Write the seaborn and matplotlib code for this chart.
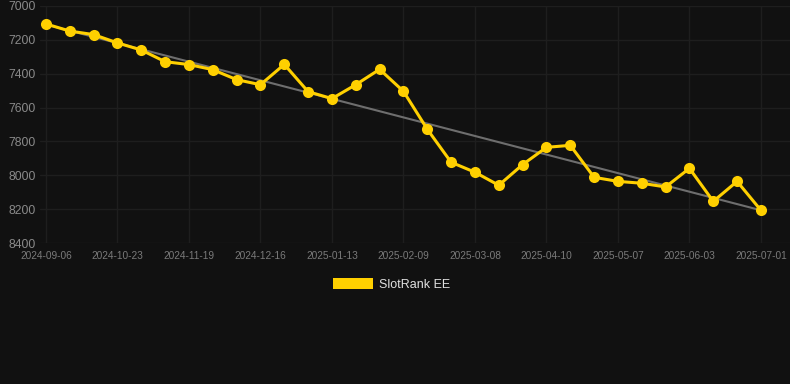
import numpy as np
import pandas as pd
import matplotlib
matplotlib.use("Agg")
import matplotlib.pyplot as plt
from matplotlib.patches import Patch
import seaborn as sns

# every 3rd date is shown on the axis
dates = ["2024-09-06", "2024-09-21", "2024-10-07", "2024-10-23", "2024-11-01", "2024-11-10",
         "2024-11-19", "2024-11-28", "2024-12-07", "2024-12-16", "2024-12-25", "2025-01-03",
         "2025-01-13", "2025-01-22", "2025-01-31", "2025-02-09", "2025-02-18", "2025-02-27",
         "2025-03-08", "2025-03-19", "2025-03-30", "2025-04-10", "2025-04-19", "2025-04-28",
         "2025-05-07", "2025-05-16", "2025-05-25", "2025-06-03", "2025-06-12", "2025-06-21",
         "2025-07-01"]
rank = [7106, 7148, 7169, 7218, 7260, 7329, 7346, 7376, 7435, 7465, 7345, 7506, 7547, 7465,
        7374, 7504, 7728, 7923, 7982, 8059, 7937, 7835, 7823, 8012, 8036, 8047, 8069, 7959,
        8154, 8036, 8207]
series_name = "SlotRank EE"

df = pd.DataFrame({"idx": np.arange(len(dates)), "date": dates, "rank": rank})

bg = "#111111"
yellow = "#FFD000"

sns.set_style("dark")
plt.rcParams["font.family"] = ["Liberation Sans", "DejaVu Sans"]

fig = plt.figure(figsize=(7.9, 3.84), dpi=100)
fig.set_facecolor(bg)
ax = fig.add_axes([40 / 790, 1 - 243 / 384, 750 / 790, 237 / 384])
ax.set_facecolor(bg)

# trend line (linear fit) under the series
sns.regplot(data=df, x="idx", y="rank", scatter=False, ci=None, ax=ax,
            line_kws={"color": "#6e6e6e", "linewidth": 1.5, "zorder": 2})
sns.lineplot(data=df, x="idx", y="rank", ax=ax, color=yellow, linewidth=2.2,
             marker="o", markersize=8, markeredgewidth=0, zorder=3)

ax.set_ylim(8400, 7000)
ax.set_xlim(-0.25, 31.22)
ax.set_yticks(np.arange(7000, 8401, 200))
ax.set_xticks(df["idx"][::3])
ax.set_xticklabels(df["date"][::3])

ax.grid(True, color="#1e1e1e", linewidth=1)
for s in ax.spines.values():
    s.set_visible(False)
ax.tick_params(axis="y", colors="#8a8a8a", labelsize=8.7, length=0, pad=3)
ax.tick_params(axis="x", colors="#7a7a7a", labelsize=7.3, length=0, pad=6)
ax.set_xlabel("")
ax.set_ylabel("")

fig.legend(handles=[Patch(facecolor=yellow, edgecolor="none", label=series_name)],
           loc="center", bbox_to_anchor=(0.496, 0.259), frameon=False,
           handlelength=3.2, handleheight=0.9, handletextpad=0.5,
           prop={"size": 9}, labelcolor="#e0e0e0")

fig.savefig("out.png", dpi=100, facecolor=bg)
